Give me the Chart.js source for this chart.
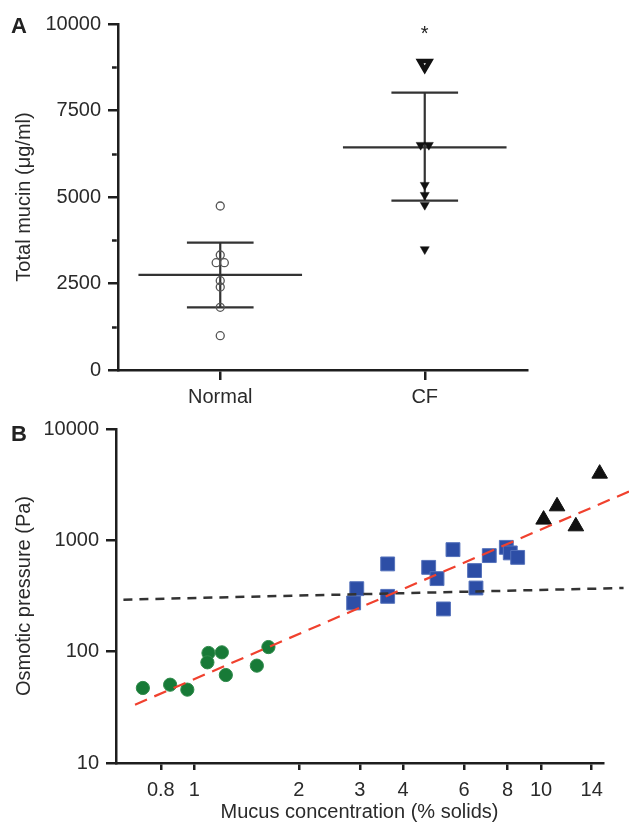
<!DOCTYPE html>
<html>
<head>
<meta charset="utf-8">
<script src="https://cdn.jsdelivr.net/npm/chart.js@4.4.1/dist/chart.umd.min.js"></script>
<style>
  html, body { margin: 0; padding: 0; background: #fff; }
  body { width: 629px; height: 824px; position: relative; overflow: hidden; font-family: "Liberation Sans", Arial, sans-serif; }
  .panel { position: absolute; left: 0; }
  .lbl { position: absolute; font: bold 22px "Liberation Sans", Arial, sans-serif; color: #222; }
</style>
</head>
<body>
<div class="panel" style="top:0"><canvas id="chartA" width="629" height="410"></canvas></div>
<div class="panel" style="top:410px"><canvas id="chartB" width="629" height="414"></canvas></div>
<div class="lbl" style="left:11px; top:13px;">A</div>
<div class="lbl" style="left:11px; top:421px;">B</div>
<script>
// ---------- Panel A data ----------
const groupLabels = ['Normal', 'CF'];
const normalValues = [4740, 3324, 3101, 3101, 2581, 2399, 1812, 991];
const normalJitter = [0, 0, -0.02, 0.02, 0, 0, 0, 0];
const cfValues = [8844, 6503, 6503, 5347, 5058, 4769, 3488];
const cfJitter = [0, -0.02, 0.02, 0, 0, 0, 0];
const groupMeans = [2750, 6436];
const groupSdLow = [1812, 4893];
const groupSdHigh = [3679, 8015];
const yTicksA = [0, 2500, 5000, 7500, 10000];
const yMinorTicksA = [1250, 3750, 6250, 8750];
const significanceMark = { group: 2, value: 9700, text: '*' };

// ---------- Panel B data ----------
const normalConc = [0.710, 0.851, 0.954, 1.098, 1.090, 1.200, 1.232, 1.514, 1.635];
const normalPressure = [47.2, 50.5, 45.6, 97.3, 80.2, 98.6, 61.7, 74.9, 110];
const cfConc = [2.94, 2.88, 3.61, 3.61, 4.74, 5.01, 5.23, 5.57, 6.43, 6.49, 7.09, 7.94, 8.15, 8.56];
const cfPressure = [368, 274, 614, 314, 572, 453, 242, 825, 535, 373, 729, 865, 771, 703];
const highConc = [10.17, 11.12, 12.6, 14.76];
const highPressure = [1535, 2021, 1336, 3973];
const fitConc = [0.674, 17.98];
const fitPressure = [33.4, 2755];
const thresholdConc = [0.624, 17.3];
const thresholdPressure = [293, 373];
const xTicksB = [0.8, 1, 2, 3, 4, 6, 8, 10, 14];
const yTicksB = [10, 100, 1000, 10000];

const FONT = '"Liberation Sans", Arial, sans-serif';
const TXT = '#2a2a2a';
const AX = '#1e1e1e';

// ---------- Panel A ----------
const meanPts = [], capPts = [], barPts = [];
groupMeans.forEach((m, i) => {
  const x = i + 1;
  meanPts.push({x: x - 0.4, y: m}, {x: x + 0.4, y: m}, {x: x, y: null});
  capPts.push({x: x - 0.163, y: groupSdHigh[i]}, {x: x + 0.163, y: groupSdHigh[i]}, {x: x, y: null});
  capPts.push({x: x - 0.163, y: groupSdLow[i]}, {x: x + 0.163, y: groupSdLow[i]}, {x: x, y: null});
  barPts.push({x: x, y: groupSdLow[i]}, {x: x, y: groupSdHigh[i]}, {x: x, y: null});
});

const extrasA = {
  id: 'extrasA',
  afterDraw(chart) {
    const ctx = chart.ctx, ys = chart.scales.y, xs = chart.scales.x;
    ctx.save();
    ctx.strokeStyle = AX;
    ctx.lineWidth = 2.5;
    yMinorTicksA.forEach(v => {
      const py = Math.round(ys.getPixelForValue(v)) + 0.5;
      ctx.beginPath();
      ctx.moveTo(ys.right - 1.25, py);
      ctx.lineTo(ys.right - 6, py);
      ctx.stroke();
    });
    ctx.fillStyle = '#222';
    ctx.font = '20px ' + FONT;
    ctx.textAlign = 'center';
    ctx.textBaseline = 'middle';
    ctx.fillText(significanceMark.text, xs.getPixelForValue(significanceMark.group), ys.getPixelForValue(significanceMark.value));
    ctx.restore();
  }
};

new Chart(document.getElementById('chartA'), {
  type: 'scatter',
  data: {
    datasets: [
      {
        label: 'Normal',
        data: normalValues.map((v, i) => ({x: 1 + normalJitter[i], y: v})),
        pointStyle: 'circle', pointRadius: 4, borderWidth: 1.3,
        borderColor: '#555', backgroundColor: 'rgba(255,255,255,0)'
      },
      {
        label: 'CF',
        data: cfValues.map((v, i) => ({x: 2 + cfJitter[i], y: v})),
        pointStyle: 'triangle', rotation: 180,
        pointRadius: ctx => ctx.dataIndex === 0 ? 6 : 5.2,
        borderWidth: ctx => ctx.dataIndex === 0 ? 4.6 : 0.5,
        borderColor: '#111',
        backgroundColor: ctx => ctx.dataIndex === 0 ? '#fff' : '#111'
      },
      { label: 'mean', data: meanPts, showLine: true, spanGaps: false, pointRadius: 0, borderColor: '#333', borderWidth: 2.2 },
      { label: 'cap', data: capPts, showLine: true, spanGaps: false, pointRadius: 0, borderColor: '#333', borderWidth: 2.2 },
      { label: 'sd', data: barPts, showLine: true, spanGaps: false, pointRadius: 0, borderColor: '#333', borderWidth: 2.2 }
    ]
  },
  options: {
    responsive: false, animation: false, events: [],
    layout: { padding: { left: 0, right: 102, top: 24, bottom: 0 } },
    plugins: { legend: { display: false }, tooltip: { enabled: false } },
    scales: {
      x: {
        type: 'linear', min: 0.5, max: 2.5,
        afterBuildTicks: s => { s.ticks = [{value: 1}, {value: 2}]; },
        afterFit: s => { s.height = 40; },
        ticks: { callback: v => groupLabels[Math.round(v) - 1] || '', color: TXT, font: { size: 20, family: FONT }, padding: 5, maxRotation: 0, autoSkip: false },
        grid: { drawOnChartArea: false, drawTicks: true, tickLength: 10, color: AX, lineWidth: 2.5 },
        border: { display: true, color: AX, width: 2.5 }
      },
      y: {
        type: 'linear', min: 0, max: 10000,
        afterBuildTicks: s => { s.ticks = yTicksA.map(v => ({value: v})); },
        afterFit: s => { s.width = 118; },
        ticks: { color: TXT, font: { size: 20, family: FONT }, padding: 7, callback: v => String(v) },
        grid: { drawOnChartArea: false, drawTicks: true, tickLength: 10, color: AX, lineWidth: 2.5 },
        border: { display: true, color: AX, width: 2.5 },
        title: { display: true, text: 'Total mucin (μg/ml)', color: TXT, font: { size: 20, family: FONT }, padding: { top: 12, bottom: 0 } }
      }
    }
  },
  plugins: [extrasA]
});

// ---------- Panel B ----------
const toPts = (xs, ys) => xs.map((x, i) => ({x: x, y: ys[i]}));

new Chart(document.getElementById('chartB'), {
  type: 'scatter',
  data: {
    datasets: [
      { label: 'fit', data: toPts(fitConc, fitPressure), showLine: true, pointRadius: 0, borderColor: '#f0412e', borderWidth: 2.2, borderDash: [13, 8], clip: false, order: 0 },
      { label: 'threshold', data: toPts(thresholdConc, thresholdPressure), showLine: true, pointRadius: 0, borderColor: '#333', borderWidth: 2.5, borderDash: [9, 7], clip: false, order: 1 },
      { label: 'normal', data: toPts(normalConc, normalPressure), pointStyle: 'circle', pointRadius: 6.6, backgroundColor: '#177a37', borderColor: '#2f8a4a', borderWidth: 1, clip: false, order: 2 },
      { label: 'cf', data: toPts(cfConc, cfPressure), pointStyle: 'rect', pointRadius: 9.8, backgroundColor: '#2d4ea6', borderColor: '#5572bb', borderWidth: 1, clip: false, order: 2 },
      { label: 'high', data: toPts(highConc, highPressure), pointStyle: 'triangle', pointRadius: 9, backgroundColor: '#111', borderColor: '#111', borderWidth: 1, clip: false, order: 2 }
    ]
  },
  options: {
    responsive: false, animation: false, events: [],
    layout: { padding: { left: 0, right: 26, top: 19, bottom: 0 } },
    plugins: { legend: { display: false }, tooltip: { enabled: false } },
    scales: {
      x: {
        type: 'logarithmic', min: 0.594, max: 15.09,
        afterBuildTicks: s => { s.ticks = xTicksB.map(v => ({value: v})); },
        afterFit: s => { s.height = 61; },
        ticks: { callback: v => String(v), color: TXT, font: { size: 20, family: FONT }, padding: 8, maxRotation: 0, autoSkip: false },
        grid: { drawOnChartArea: false, drawTicks: true, tickLength: 7, color: AX, lineWidth: 2.5 },
        border: { display: true, color: AX, width: 2.5 },
        title: { display: true, text: 'Mucus concentration (% solids)', color: TXT, font: { size: 20, family: FONT }, padding: { top: 0, bottom: 0 } }
      },
      y: {
        type: 'logarithmic', min: 10, max: 10000,
        afterBuildTicks: s => { s.ticks = yTicksB.map(v => ({value: v})); },
        afterFit: s => { s.width = 116; },
        ticks: { callback: v => String(v), color: TXT, font: { size: 20, family: FONT }, padding: 7 },
        grid: { drawOnChartArea: false, drawTicks: true, tickLength: 10, color: AX, lineWidth: 2.5 },
        border: { display: true, color: AX, width: 2.5 },
        title: { display: true, text: 'Osmotic pressure (Pa)', color: TXT, font: { size: 20, family: FONT }, padding: { top: 12, bottom: 0 } }
      }
    }
  }
});
</script>
</body>
</html>
